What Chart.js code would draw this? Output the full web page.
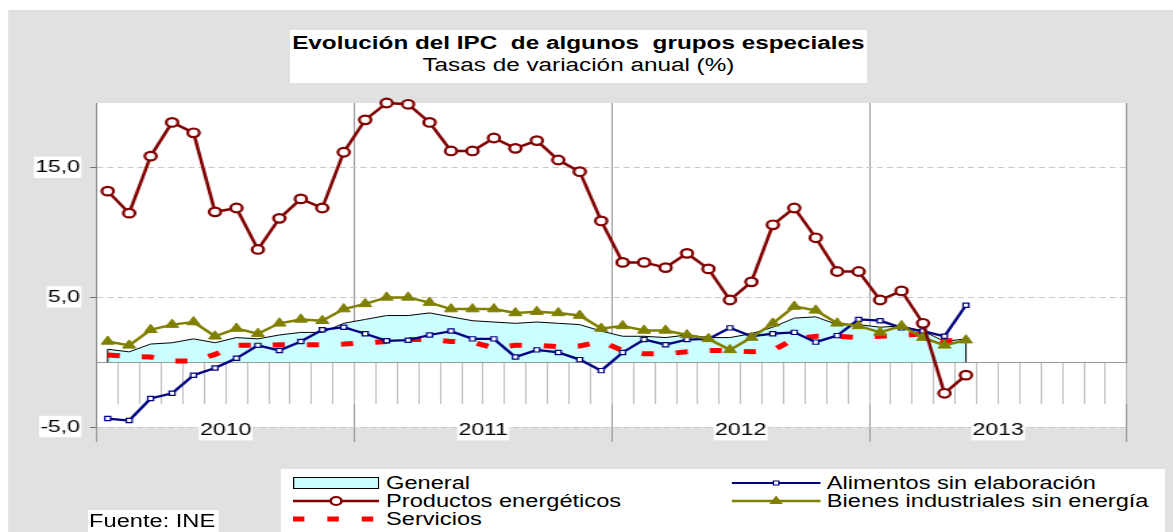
<!DOCTYPE html>
<html>
<head>
<meta charset="utf-8">
<script src="https://cdn.jsdelivr.net/npm/chart.js@4.4.0/dist/chart.umd.min.js"></script>
<style>
html,body{margin:0;padding:0;background:#fff;overflow:hidden;width:1173px;height:532px;}
#wrap{position:absolute;left:0;top:0;width:869px;height:532px;transform-origin:0 0;transform:scaleX(1.34983);}
#c{position:absolute;left:0;top:0;}
.box{position:absolute;background:#fff;font-family:'Liberation Sans',Arial,sans-serif;color:#000;}
.it{position:absolute;height:18px;}
.tx{position:absolute;font-size:17.5px;line-height:18px;white-space:nowrap;}
</style>
</head>
<body>
<div id="wrap">
  <canvas id="c" width="869" height="532"></canvas>
  <div class="box" style="left:215px;top:30px;width:427px;height:52px;text-align:center;">
    <div style="font-weight:bold;font-size:18px;line-height:22px;margin-top:2px;white-space:pre;">Evolución del IPC  de algunos  grupos especiales</div>
    <div style="font-size:18px;line-height:22px;">Tasas de variación anual (%)</div>
  </div>
  <div class="box" style="left:208px;top:469px;width:655px;height:63px;">
    <svg class="it" style="left:9px;top:5px;" width="64" height="18"><rect x="0.5" y="3.5" width="63" height="11" fill="#ccffff" stroke="#000" stroke-width="1"/></svg>
    <div class="tx" style="left:78px;top:5px;">General</div>
    <svg class="it" style="left:9px;top:23px;" width="64" height="18"><line x1="0" y1="9" x2="64" y2="9" stroke="#800000" stroke-width="2.5"/><circle cx="32" cy="9" r="4" fill="#fff" stroke="#800000" stroke-width="2"/></svg>
    <div class="tx" style="left:78px;top:23px;">Productos energéticos</div>
    <svg class="it" style="left:9px;top:41px;" width="64" height="18"><rect x="0" y="6.5" width="8.5" height="5" fill="#ff0000"/><rect x="25.5" y="6.5" width="8.5" height="5" fill="#ff0000"/><rect x="51" y="6.5" width="8.5" height="5" fill="#ff0000"/></svg>
    <div class="tx" style="left:78px;top:41px;">Servicios</div>
    <svg class="it" style="left:334px;top:5px;" width="66" height="18"><line x1="0" y1="9" x2="66" y2="9" stroke="#000080" stroke-width="2"/><rect x="31" y="7" width="4" height="4" fill="#fff" stroke="#000080" stroke-width="1"/></svg>
    <div class="tx" style="left:404.5px;top:5px;">Alimentos sin elaboración</div>
    <svg class="it" style="left:334px;top:23px;" width="66" height="18"><line x1="0" y1="9" x2="66" y2="9" stroke="#808000" stroke-width="2.5"/><polygon points="33,3.5 38,12 28,12" fill="#808000"/></svg>
    <div class="tx" style="left:404.5px;top:23px;">Bienes industriales sin energía</div>
  </div>
  <div class="box" style="left:65px;top:510px;width:97px;height:22px;"><div class="tx" style="left:1px;top:2px;">Fuente: INE</div></div>
</div>
<script>
// ---- Data (annual rates, %) ----
const meses = ['Ene 2010','Feb 2010','Mar 2010','Abr 2010','May 2010','Jun 2010','Jul 2010','Ago 2010','Sep 2010','Oct 2010','Nov 2010','Dic 2010',
  'Ene 2011','Feb 2011','Mar 2011','Abr 2011','May 2011','Jun 2011','Jul 2011','Ago 2011','Sep 2011','Oct 2011','Nov 2011','Dic 2011',
  'Ene 2012','Feb 2012','Mar 2012','Abr 2012','May 2012','Jun 2012','Jul 2012','Ago 2012','Sep 2012','Oct 2012','Nov 2012','Dic 2012',
  'Ene 2013','Feb 2013','Mar 2013','Abr 2013','May 2013'];
const anios = ['2010','2011','2012','2013'];
const yTicks = [-5, 5, 15];

const general = [1.0,0.8,1.4,1.5,1.8,1.5,1.9,1.8,2.1,2.3,2.3,3.0,
  3.3,3.6,3.6,3.8,3.5,3.2,3.1,3.0,3.1,3.0,2.9,2.4,
  2.0,2.0,1.9,2.1,1.9,1.9,2.2,2.7,3.4,3.5,2.9,2.9,
  2.7,2.8,2.4,1.6,1.8];
const energeticos = [13.2,11.5,15.9,18.5,17.7,11.6,11.9,8.7,11.1,12.6,11.9,16.2,
  18.7,20.0,19.9,18.5,16.3,16.3,17.3,16.5,17.1,15.6,14.7,10.9,
  7.7,7.7,7.3,8.4,7.2,4.8,6.2,10.6,11.9,9.6,7.0,7.0,
  4.8,5.5,3.0,-2.4,-1.0];
const servicios = [0.55,0.45,0.4,0.1,0.1,0.6,1.3,1.3,1.35,1.35,1.35,1.4,
  1.5,1.6,1.75,1.75,1.6,1.55,1.1,1.3,1.3,1.2,1.25,1.6,
  0.9,0.65,0.65,0.8,0.9,0.9,0.8,0.9,1.8,2.0,2.0,1.9,
  2.0,2.05,2.2,1.6,1.8];
const alimentos = [-4.35,-4.5,-2.8,-2.4,-1.0,-0.45,0.3,1.3,0.9,1.6,2.5,2.7,
  2.2,1.65,1.7,2.1,2.4,1.8,1.8,0.4,0.95,0.75,0.2,-0.65,
  0.75,1.75,1.35,1.75,1.8,2.65,2.0,2.2,2.3,1.55,2.05,3.3,
  3.2,2.65,2.4,2.0,4.4];
const bienes = [1.6,1.3,2.5,2.9,3.1,2.0,2.6,2.2,3.0,3.3,3.2,4.1,
  4.5,5.0,5.0,4.6,4.1,4.1,4.1,3.8,3.9,3.8,3.6,2.6,
  2.8,2.45,2.45,2.1,1.8,0.95,1.9,3.0,4.3,4.0,3.0,2.8,
  2.3,2.8,1.9,1.3,1.7];

const totalMeses = anios.length * 12;
const toXY = arr => arr.map((v, i) => ({x: i + 0.5, y: v, mes: meses[i]}));
const font = {family: "'Liberation Sans', Arial, sans-serif", size: 17};

const bgPlugin = {
  id: 'bg',
  beforeDraw(chart) {
    const {ctx, chartArea: a, width, height} = chart;
    ctx.save();
    ctx.fillStyle = '#ffffff'; ctx.fillRect(0, 0, width, height);
    ctx.fillStyle = '#e1e1e1'; ctx.fillRect(6, 10, width - 6, height - 10);
    ctx.fillStyle = '#ffffff'; ctx.fillRect(a.left, a.top, a.right - a.left, a.bottom - a.top);
    ctx.restore();
  }
};
const edgePlugin = {
  id: 'edges',
  afterDatasetDraw(chart, args) {
    const ds = chart.data.datasets[args.index];
    if (ds.label !== 'General') return;
    const pts = args.meta.data;
    const y0 = chart.scales.y.getPixelForValue(0);
    const ctx = chart.ctx;
    ctx.save();
    ctx.lineWidth = 1;
    ctx.strokeStyle = '#999999';
    ctx.beginPath(); ctx.moveTo(chart.chartArea.left, Math.round(y0) + 0.5); ctx.lineTo(chart.chartArea.right, Math.round(y0) + 0.5); ctx.stroke();
    ctx.strokeStyle = '#000000';
    [pts[0], pts[pts.length - 1]].forEach(p => {
      ctx.beginPath(); ctx.moveTo(p.x, p.y); ctx.lineTo(p.x, y0); ctx.stroke();
    });
    ctx.restore();
  }
};

new Chart(document.getElementById('c'), {
  type: 'line',
  data: {
    datasets: [
      {label: 'Productos energéticos', data: toXY(energeticos), borderColor: '#800000', borderWidth: 2.5,
       pointStyle: 'circle', pointRadius: 4.3, pointBorderWidth: 2.2, pointBackgroundColor: '#ffffff', pointBorderColor: '#800000', clip: false},
      {label: 'Bienes industriales sin energía', data: toXY(bienes), borderColor: '#808000', borderWidth: 2.5,
       pointStyle: 'triangle', pointRadius: 5.5, pointBorderWidth: 1, pointBackgroundColor: '#808000', pointBorderColor: '#808000', clip: false},
      {label: 'Alimentos sin elaboración', data: toXY(alimentos), borderColor: '#000080', borderWidth: 2.3,
       pointStyle: 'rect', pointRadius: 3, pointBorderWidth: 1.2, pointBackgroundColor: '#ffffff', pointBorderColor: '#000080', clip: false},
      {label: 'Servicios', data: toXY(servicios), borderColor: '#ff0000', borderWidth: 5, borderDash: [9, 16.3],
       borderCapStyle: 'butt', pointRadius: 0, clip: false},
      {label: 'General', data: toXY(general), borderColor: '#000000', borderWidth: 1, backgroundColor: '#ccffff',
       fill: 'origin', pointRadius: 0}
    ]
  },
  options: {
    responsive: false,
    animation: false,
    devicePixelRatio: 1,
    events: [],
    layout: {padding: {top: 103, right: 34.2, bottom: 90, left: 0}},
    elements: {line: {tension: 0}},
    plugins: {legend: {display: false}, tooltip: {enabled: false}, title: {display: false}},
    scales: {
      x: {
        type: 'linear', position: 'bottom', min: 0, max: totalMeses,
        afterBuildTicks(s) {
          const t = [];
          for (let k = 0; k <= anios.length; k++) t.push({value: k * 12});
          s.ticks = t;
        },
        afterFit(s) { s.height = 15; },
        grid: {drawOnChartArea: true, drawTicks: true, tickLength: 15, lineWidth: 1, color: '#9a9a9a', tickColor: '#9a9a9a'},
        border: {display: false},
        ticks: {display: false}
      },
      xa: {
        type: 'linear', axis: 'x', position: {y: -5}, min: 0, max: totalMeses,
        afterBuildTicks(s) { s.ticks = anios.map((a, k) => ({value: k * 12 + 6})); },
        grid: {display: false, drawTicks: false, drawOnChartArea: false},
        border: {display: false},
        ticks: {
          z: 1, autoSkip: false, maxRotation: 0, minRotation: 0, padding: -7, color: '#000', font: font,
          callback: v => anios[(v - 6) / 12],
          showLabelBackdrop: true, backdropColor: '#ffffff', backdropPadding: {left: 1, right: 1, top: 0, bottom: 0}
        }
      },
      xm: {
        type: 'linear', axis: 'x', position: {y: 0}, min: 0, max: totalMeses,
        afterBuildTicks(s) {
          const t = [];
          for (let m = 0; m <= totalMeses; m++) t.push({value: m});
          s.ticks = t;
        },
        grid: {drawOnChartArea: false, drawTicks: true, tickLength: 41, tickColor: '#bdbdbd', lineWidth: 1},
        border: {display: true, color: '#999999', width: 1},
        ticks: {display: false}
      },
      y: {
        type: 'linear', position: 'left', min: -5, max: 20,
        afterBuildTicks(s) { s.ticks = yTicks.map(v => ({value: v})); },
        afterFit(s) { s.width = 71.85; },
        grid: {color: '#c8c8c8', lineWidth: 1, drawTicks: true, tickLength: 5.2, tickColor: '#707070', tickBorderDash: []},
        border: {display: true, color: '#8c8c8c', width: 1, dash: [4.5, 3]},
        ticks: {
          padding: 7.4, color: '#000', font: font,
          callback: v => v.toFixed(1).replace('.', ','),
          showLabelBackdrop: true, backdropColor: '#ffffff', backdropPadding: {left: 1, right: 1, top: 1, bottom: 0}
        }
      }
    }
  },
  plugins: [bgPlugin, edgePlugin]
});
</script>
</body>
</html>
